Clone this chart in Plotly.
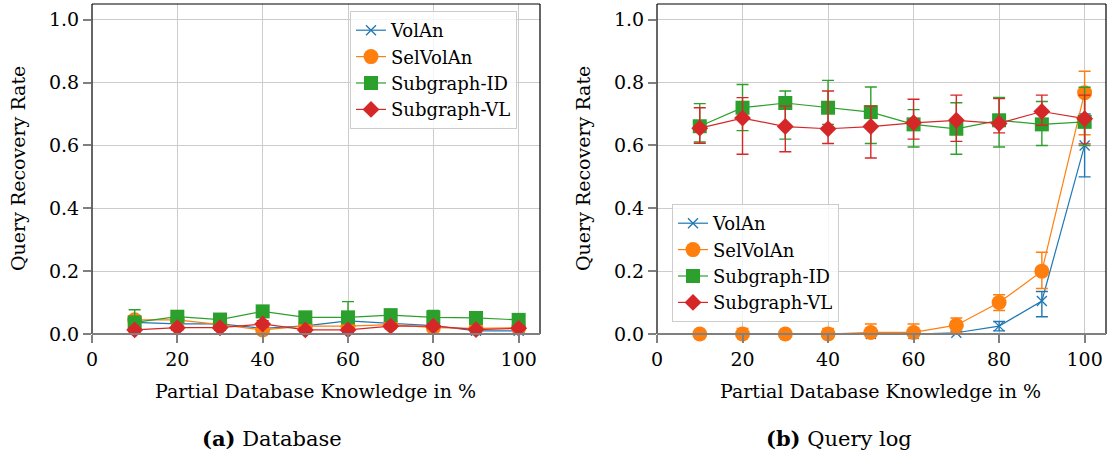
import plotly.graph_objects as go

x = [10, 20, 30, 40, 50, 60, 70, 80, 90, 100]

# (a) Database
volan_db = [0.037, 0.032, 0.032, 0.018, 0.026, 0.042, 0.034, 0.027, 0.010, 0.010]
volan_db_err = [0.008, 0.008, 0.008, 0.008, 0.008, 0.008, 0.008, 0.008, 0.006, 0.006]
selvolan_db = [0.045, 0.045, 0.030, 0.013, 0.025, 0.025, 0.030, 0.020, 0.018, 0.020]
selvolan_db_err = [0.012, 0.008, 0.008, 0.008, 0.008, 0.008, 0.008, 0.008, 0.006, 0.006]
sgid_db = [0.037, 0.055, 0.046, 0.072, 0.053, 0.053, 0.060, 0.053, 0.051, 0.045]
sgid_db_err = [0.040, 0.010, 0.010, 0.010, 0.010, 0.050, 0.010, 0.022, 0.010, 0.008]
sgvl_db = [0.013, 0.020, 0.020, 0.032, 0.013, 0.013, 0.025, 0.025, 0.014, 0.018]
sgvl_db_err = [0.008, 0.008, 0.008, 0.010, 0.008, 0.008, 0.008, 0.008, 0.006, 0.006]

# (b) Query log
volan_ql = [0.0, 0.0, 0.0, 0.0, 0.0, 0.0, 0.004, 0.025, 0.105, 0.60]
volan_ql_plus = [0.002, 0.002, 0.002, 0.003, 0.003, 0.003, 0.005, 0.015, 0.030, 0.10]
volan_ql_minus = [0.002, 0.002, 0.002, 0.003, 0.003, 0.003, 0.004, 0.015, 0.050, 0.10]
selvolan_ql = [0.0, 0.0, 0.0, 0.0, 0.005, 0.005, 0.028, 0.100, 0.200, 0.768]
selvolan_ql_plus = [0.005, 0.018, 0.003, 0.018, 0.027, 0.027, 0.023, 0.025, 0.060, 0.068]
selvolan_ql_minus = [0.005, 0.018, 0.003, 0.018, 0.005, 0.005, 0.023, 0.025, 0.055, 0.134]
sgid_ql = [0.661, 0.720, 0.735, 0.720, 0.706, 0.667, 0.653, 0.680, 0.667, 0.675]
sgid_ql_plus = [0.072, 0.074, 0.038, 0.087, 0.080, 0.047, 0.083, 0.073, 0.073, 0.110]
sgid_ql_minus = [0.050, 0.073, 0.115, 0.053, 0.100, 0.072, 0.081, 0.085, 0.067, 0.075]
sgvl_ql = [0.655, 0.687, 0.660, 0.653, 0.660, 0.672, 0.680, 0.670, 0.708, 0.685]
sgvl_ql_plus = [0.065, 0.065, 0.065, 0.120, 0.065, 0.075, 0.080, 0.079, 0.052, 0.075]
sgvl_ql_minus = [0.048, 0.115, 0.080, 0.047, 0.100, 0.052, 0.067, 0.030, 0.044, 0.080]

names = ["VolAn", "SelVolAn", "Subgraph-ID", "Subgraph-VL"]
colors = ["#1f77b4", "#ff7f0e", "#2ca02c", "#d62728"]
symbols = ["x-thin", "circle", "square", "diamond"]
sizes = [10, 15, 14, 13]

FONT = "DejaVu Serif"
FS = 19

fig = go.Figure()

db_series = [
    (volan_db, volan_db_err, volan_db_err),
    (selvolan_db, selvolan_db_err, selvolan_db_err),
    (sgid_db, sgid_db_err, sgid_db_err),
    (sgvl_db, sgvl_db_err, sgvl_db_err),
]
ql_series = [
    (volan_ql, volan_ql_plus, volan_ql_minus),
    (selvolan_ql, selvolan_ql_plus, selvolan_ql_minus),
    (sgid_ql, sgid_ql_plus, sgid_ql_minus),
    (sgvl_ql, sgvl_ql_plus, sgvl_ql_minus),
]


def add_series(series, xa, ya, legend):
    for i, (vals, plus, minus) in enumerate(series):
        sym = symbols[i]
        marker = dict(color=colors[i], size=sizes[i], symbol=sym)
        if sym == "x-thin":
            marker["line"] = dict(color=colors[i], width=1.3)
        else:
            marker["line"] = dict(width=0)
        fig.add_trace(go.Scatter(
            x=x, y=vals, name=names[i], mode="lines+markers",
            line=dict(color=colors[i], width=1.2),
            marker=marker,
            error_y=dict(type="data", symmetric=False, array=plus, arrayminus=minus,
                         color=colors[i], thickness=1.4, width=6),
            xaxis=xa, yaxis=ya, legend=legend, cliponaxis=False,
        ))


add_series(db_series, "x", "y", "legend")
add_series(ql_series, "x2", "y2", "legend2")

W, H = 1112, 459
ydom = [1 - 334 / H, 1 - 4 / H]
xdom1 = [92 / W, 540 / W]
xdom2 = [657 / W, 1106 / W]

axis_common = dict(
    showgrid=True, gridcolor="#cccccc", gridwidth=1,
    ticks="outside", ticklen=8, tickcolor="#808080", tickwidth=1.5,
    tickfont=dict(family=FONT, size=FS, color="black"),
    showline=False, zeroline=False, automargin=False,
)

fig.update_layout(
    template="none",
    width=W, height=H,
    margin=dict(l=0, r=0, t=0, b=0, pad=0),
    plot_bgcolor="white", paper_bgcolor="white",
    font=dict(family=FONT, size=FS, color="black"),
    xaxis=dict(domain=xdom1, range=[0, 105], tickvals=[0, 20, 40, 60, 80, 100], anchor="y", **axis_common),
    yaxis=dict(domain=ydom, range=[0, 1.05], tickvals=[0, 0.2, 0.4, 0.6, 0.8, 1.0], tickformat=".1f", anchor="x", **axis_common),
    xaxis2=dict(domain=xdom2, range=[0, 105], tickvals=[0, 20, 40, 60, 80, 100], anchor="y2", **axis_common),
    yaxis2=dict(domain=ydom, range=[0, 1.05], tickvals=[0, 0.2, 0.4, 0.6, 0.8, 1.0], tickformat=".1f", anchor="x2", **axis_common),
    legend=dict(x=350 / W, y=1 - 11 / H, xanchor="left", yanchor="top",
                bgcolor="rgba(255,255,255,0.8)", bordercolor="#cccccc", borderwidth=1,
                font=dict(family=FONT, size=18)),
    legend2=dict(x=672 / W, y=1 - 204 / H, xanchor="left", yanchor="top",
                 bgcolor="rgba(255,255,255,0.8)", bordercolor="#cccccc", borderwidth=1,
                 font=dict(family=FONT, size=18)),
)

# frames
for xa, ya in (("x", "y"), ("x2", "y2")):
    xr, yr = f"{xa} domain", f"{ya} domain"
    for (x0, y0, x1, y1) in ((0, 0, 0, 1), (0, 1, 1, 1), (1, 0, 1, 1)):
        fig.add_shape(type="line", xref=xr, yref=yr, x0=x0, y0=y0, x1=x1, y1=y1,
                      line=dict(color="black", width=1.2), layer="above")
    fig.add_shape(type="line", xref=xr, yref=yr, x0=0, y0=0, x1=1, y1=0,
                  line=dict(color="#808080", width=2), layer="above")

# axis titles and captions
xt = "Partial Database Knowledge in %"
yt = "Query Recovery Rate"
for cx in (315 / W, 880 / W):
    fig.add_annotation(text=xt, x=cx, y=1 - 391 / H, xref="paper", yref="paper",
                       showarrow=False, font=dict(family=FONT, size=FS), xanchor="center", yanchor="middle")
for cx in (18 / W, 583 / W):
    fig.add_annotation(text=yt, x=cx, y=1 - 169 / H, xref="paper", yref="paper", textangle=-90,
                       showarrow=False, font=dict(family=FONT, size=FS), xanchor="center", yanchor="middle")
fig.add_annotation(text="<b>(a)</b> Database", x=272 / W, y=1 - 438 / H, xref="paper", yref="paper",
                   showarrow=False, font=dict(family=FONT, size=21), xanchor="center", yanchor="middle")
fig.add_annotation(text="<b>(b)</b> Query log", x=839 / W, y=1 - 438 / H, xref="paper", yref="paper",
                   showarrow=False, font=dict(family=FONT, size=21), xanchor="center", yanchor="middle")

fig.write_html("out.html")
